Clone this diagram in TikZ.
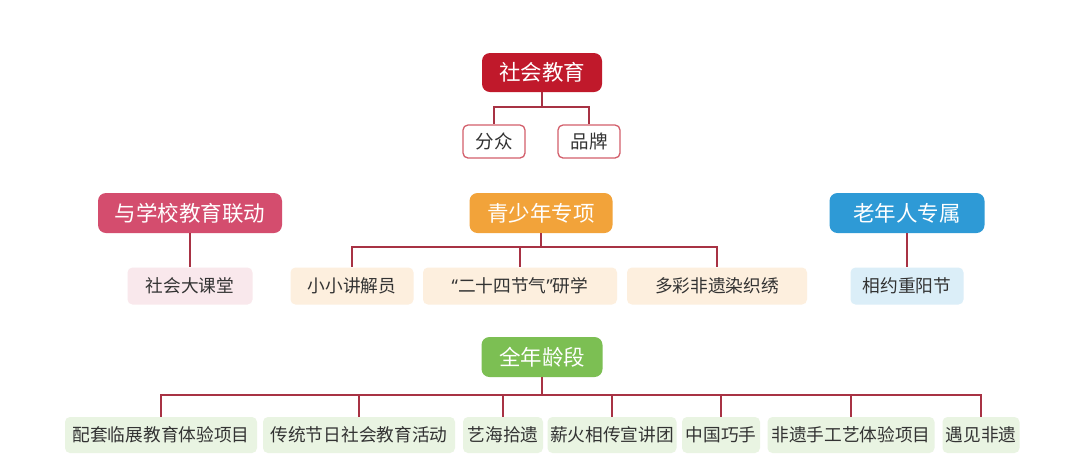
\documentclass[tikz,border=0pt]{standalone}
\usepackage{fontspec}
\setmainfont{Noto Sans CJK SC}
\newfontfamily\quotefont{Noto Sans}
\definecolor{rootred}{HTML}{C0192B}
\definecolor{schoolpink}{HTML}{D44D6E}
\definecolor{youthorange}{HTML}{F2A33A}
\definecolor{elderblue}{HTML}{2E9AD6}
\definecolor{allgreen}{HTML}{7CBF53}
\definecolor{linkred}{HTML}{A83244}
\begin{document}
\begin{tikzpicture}[x=1pt, y=-1pt,
    head/.style={fill=#1, text=white, rounded corners=8pt, minimum height=40pt, inner sep=0pt, font=\fontsize{21.5}{24}\selectfont},
    leaf/.style={fill=#1, text=black!80, rounded corners=5pt, minimum height=37pt, inner sep=0pt, font=\fontsize{17.7}{20}\selectfont},
    link/.style={draw=linkred, line width=2pt}]
    \useasboundingbox[fill=white] (0,0) rectangle (1080,467);
    %nodes
    \node[head=rootred, minimum width=120pt, minimum height=39pt] at (542,72.5) (root) {社会教育};
    \node[leaf=white, draw=rootred!70, line width=1.3pt, minimum width=62pt, minimum height=33pt, font=\fontsize{18.5}{21}\selectfont] at (494,141.5) (fenzhong) {分众};
    \node[leaf=white, draw=rootred!70, line width=1.3pt, minimum width=62pt, minimum height=33pt, font=\fontsize{18.5}{21}\selectfont] at (589,141.5) (pinpai) {品牌};
    \node[head=schoolpink, minimum width=184pt] at (190,213) (school) {与学校教育联动};
    \node[leaf=schoolpink!13, minimum width=125pt] at (190,286) (ketang) {社会大课堂};
    \node[head=youthorange, minimum width=143pt] at (541,213) (youth) {青少年专项};
    \node[leaf=youthorange!17, minimum width=123pt] at (352,286) (jiangjie) {小小讲解员};
    \node[leaf=youthorange!17, minimum width=194pt] at (520,286) (jieqi) {{\quotefont“}二十四节气{\quotefont”}研学};
    \node[leaf=youthorange!17, minimum width=180pt] at (717,286) (ranzhi) {多彩非遗染织绣};
    \node[head=elderblue, minimum width=155pt] at (907,213) (elder) {老年人专属};
    \node[leaf=elderblue!17, minimum width=113pt] at (907,286) (chongyang) {相约重阳节};
    \node[head=allgreen, minimum width=121pt] at (542,357) (all) {全年龄段};
    \node[leaf=allgreen!17, minimum width=192pt, minimum height=36pt] at (161,435) (linzhan) {配套临展教育体验项目};
    \node[leaf=allgreen!17, minimum width=192pt, minimum height=36pt] at (359,435) (jieri) {传统节日社会教育活动};
    \node[leaf=allgreen!17, minimum width=80pt, minimum height=36pt] at (503,435) (yihai) {艺海拾遗};
    \node[leaf=allgreen!17, minimum width=129pt, minimum height=36pt] at (612,435) (xinhuo) {薪火相传宣讲团};
    \node[leaf=allgreen!17, minimum width=78pt, minimum height=36pt] at (721,435) (qiaoshou) {中国巧手};
    \node[leaf=allgreen!17, minimum width=167pt, minimum height=36pt] at (851,435) (shougong) {非遗手工艺体验项目};
    \node[leaf=allgreen!17, minimum width=77pt, minimum height=36pt] at (981,435) (yujian) {遇见非遗};
    %bus lines
    \coordinate (rootbus) at (542,107);
    \coordinate (youthbus) at (541,247);
    \coordinate (allbus) at (542,395);
    \draw[link] (root.south) -- (rootbus);
    \foreach \n in {fenzhong, pinpai}
        \draw[link] (rootbus) -| (\n.north);
    \draw[link] (school.south) -- (ketang.north);
    \draw[link] (youth.south) -- (youthbus);
    \foreach \n in {jiangjie, jieqi, ranzhi}
        \draw[link] (youthbus) -| (\n.north);
    \draw[link] (elder.south) -- (chongyang.north);
    \draw[link] (all.south) -- (allbus);
    \foreach \n in {linzhan, jieri, yihai, xinhuo, qiaoshou, shougong, yujian}
        \draw[link] (allbus) -| (\n.north);
\end{tikzpicture}
\end{document}
